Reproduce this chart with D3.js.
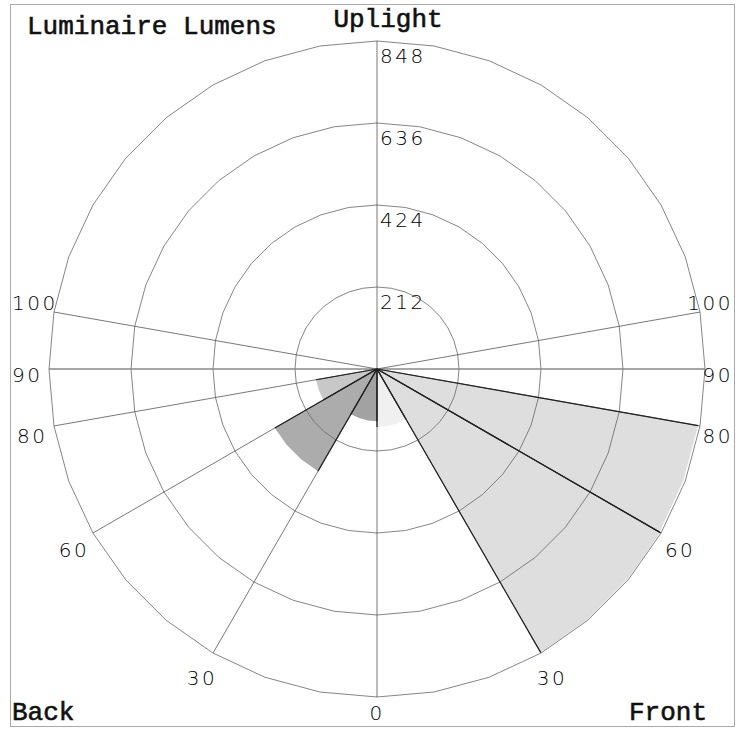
<!DOCTYPE html>
<html>
<head>
<meta charset="utf-8">
<script src="https://cdn.jsdelivr.net/npm/d3@7"></script>
<style>
  html, body { margin: 0; padding: 0; background: #fff; }
  svg { display: block; }
</style>
</head>
<body>
<svg id="chart" width="740" height="729"></svg>
<script>
// zone boundaries (degrees from nadir), same on both sides
var zoneAngles = [0, 30, 60, 80, 90, 100];
// lumens per zone: low (0-30), medium (30-60), high (60-80), very high (80-90)
var backLumens  = [135, 305, 160, 0];
var frontLumens = [150, 846, 843, 0];
var ringValues  = [212, 424, 636, 848];
var zoneLabels  = ["0", "30", "60", "80", "90", "100"];

var W = 740, H = 729;
var cx = 377, cy = 369;
var svg = d3.select('#chart');

var r = d3.scaleLinear().domain([0, 848]).range([0, 328]);

var degToRad = function(deg){ return (deg*Math.PI)/180; };
// polar angle -> d3 radial angle (0 = up, clockwise)
var frontAngle = function(deg){ return Math.PI - degToRad(deg); };
var backAngle  = function(deg){ return Math.PI + degToRad(deg); };
var pt = function(a, rad){ return [cx + rad*Math.sin(a), cy - rad*Math.cos(a)]; };

var g = svg.append('g');

// frame
svg.append('rect')
  .attr('x', 10.5).attr('y', 4.5)
  .attr('width', 724).attr('height', 722)
  .attr('fill', 'none').attr('stroke', '#aaa').attr('stroke-width', 1);

// wedges (drawn as polygons, 10 degree steps like the rings)
var wedgePoints = function(a0, a1, value, toAngle){
  var pts = [[cx, cy]];
  var steps = [a0];
  for(var s = Math.ceil(a0/10)*10; s < a1; s += 10){ if(s > a0) steps.push(s); }
  steps.push(a1);
  steps.forEach(function(d){ pts.push(pt(toAngle(d), r(value))); });
  return pts;
};

var backFills  = ['#a2a2a2', '#acacac', '#c8c8c8', '#c8c8c8'];
var frontFills = ['#f0f0f0', '#dedede', '#dedede', '#dedede'];

var wedges = [];
backLumens.forEach(function(v, i){
  wedges.push({a0: zoneAngles[i], a1: zoneAngles[i+1], value: v, side: 'back', fill: backFills[i]});
});
frontLumens.forEach(function(v, i){
  wedges.push({a0: zoneAngles[i], a1: zoneAngles[i+1], value: v, side: 'front', fill: frontFills[i]});
});
wedges = wedges.filter(function(d){ return d.value > 0; });

g.selectAll('.wedge')
  .data(wedges)
  .enter().append('polygon')
  .attr('class', 'wedge')
  .attr('points', function(d){
    var f = d.side === 'front' ? frontAngle : backAngle;
    return wedgePoints(d.a0, d.a1, d.value, f).map(function(p){ return p.join(','); }).join(' ');
  })
  .attr('fill', function(d){ return d.fill; });

// rings : 36-gons
var ringAngles = d3.range(0, 360, 10).map(degToRad);
var ringLine = d3.lineRadial()
  .angle(function(d){ return d; })
  .curve(d3.curveLinearClosed);

g.selectAll('.ring')
  .data(ringValues)
  .enter().append('path')
  .attr('class', 'ring')
  .attr('transform', 'translate(' + cx + ',' + cy + ')')
  .attr('d', function(v){ return ringLine.radius(r(v))(ringAngles); })
  .attr('fill', 'none')
  .attr('stroke', '#666')
  .attr('stroke-width', 0.8);

// radial zone lines
var spokes = [];
zoneAngles.forEach(function(a){
  spokes.push(frontAngle(a));
  if(a > 0) spokes.push(backAngle(a));
});
spokes.push(0);

g.selectAll('.spoke')
  .data(spokes)
  .enter().append('line')
  .attr('class', 'spoke')
  .attr('x1', cx).attr('y1', cy)
  .attr('x2', function(a){ return pt(a, r(848))[0]; })
  .attr('y2', function(a){ return pt(a, r(848))[1]; })
  .attr('stroke', function(a){ return Math.abs(Math.cos(a)) < 1e-6 ? '#888' : '#555'; })
  .attr('stroke-width', function(a){ return Math.abs(Math.cos(a)) < 1e-6 ? 1.4 : 0.8; });

// dark radial edges of the shaded wedges
var edges = [];
wedges.forEach(function(d){
  var f = d.side === 'front' ? frontAngle : backAngle;
  edges.push({a: f(d.a0), v: d.value});
  edges.push({a: f(d.a1), v: d.value});
});
g.selectAll('.edge')
  .data(edges)
  .enter().append('line')
  .attr('class', 'edge')
  .attr('x1', cx).attr('y1', cy)
  .attr('x2', function(d){ return pt(d.a, r(d.v))[0]; })
  .attr('y2', function(d){ return pt(d.a, r(d.v))[1]; })
  .attr('stroke', '#222')
  .attr('stroke-width', 1.2);

// ring values
var numFont = '"DejaVu Sans", sans-serif';
g.selectAll('.ring-label')
  .data(ringValues)
  .enter().append('text')
  .attr('x', cx + 3)
  .attr('y', function(v){ return cy - r(v) + 22; })
  .attr('font-family', numFont)
  .attr('font-weight', 200)
  .attr('font-size', 20)
  .attr('letter-spacing', 2.5)
  .attr('fill', '#000')
  .text(function(v){ return v; });

// zone labels round the outside
var labelData = [];
zoneAngles.forEach(function(a, i){
  labelData.push({a: frontAngle(a), deg: a, text: zoneLabels[i]});
  if(a > 0) labelData.push({a: backAngle(a), deg: a, text: zoneLabels[i]});
});

g.selectAll('.zone-label')
  .data(labelData)
  .enter().append('text')
  .attr('class', 'zone-label')
  .attr('font-family', numFont)
  .attr('font-weight', 200)
  .attr('font-size', 20)
  .attr('letter-spacing', 2.5)
  .attr('fill', '#000')
  .attr('dominant-baseline', 'central')
  .text(function(d){ return d.text; })
  .each(function(d){
    var p = pt(d.a, 350);
    var w = this.getComputedTextLength();
    var x = p[0] - w/2;
    var y = p[1] + (d.deg > 90 ? -5 : 6);
    // keep inside the frame
    if(x + w > 733) x = 733 - w;
    if(x < 12) x = 12;
    if(y > 713) y = 713;
    d3.select(this).attr('x', x).attr('y', y);
  });

// titles
var titleFont = '"Liberation Mono", "Courier New", monospace';
var titles = [
  {text: 'Luminaire Lumens', x: 27, y: 34, anchor: 'start'},
  {text: 'Uplight', x: 388, y: 27, anchor: 'middle'},
  {text: 'Back', x: 12, y: 720, anchor: 'start'},
  {text: 'Front', x: 707, y: 720, anchor: 'end'}
];
svg.selectAll('.title')
  .data(titles)
  .enter().append('text')
  .attr('class', 'title')
  .attr('x', function(d){ return d.x; })
  .attr('y', function(d){ return d.y; })
  .attr('text-anchor', function(d){ return d.anchor; })
  .attr('font-family', titleFont)
  .attr('font-size', 26)
  .attr('fill', '#111')
  .attr('stroke', '#111')
  .attr('stroke-width', 0.6)
  .text(function(d){ return d.text; });
</script>
</body>
</html>
